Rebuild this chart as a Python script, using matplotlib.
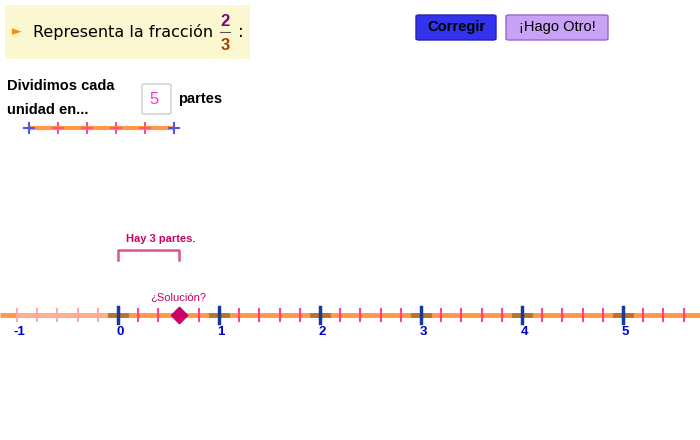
import matplotlib
matplotlib.use("Agg")
import matplotlib.pyplot as plt
from matplotlib.patches import Rectangle, FancyBboxPatch
import numpy as np

num, den = 2, 3
parts = 5
int_labels = [-1, 0, 1, 2, 3, 4, 5]
point_value = 3 / 5
hint_text = "Hay 3 partes."

plt.rcParams['font.family'] = ['Liberation Sans', 'DejaVu Sans']
X0, U = 118, 101  # pixel of 0 and pixel per unit
fig = plt.figure(figsize=(7, 4.4), dpi=100)
ax = fig.add_axes([0, 0, 1, 1])
ax.set_xlim(-X0 / U, (700 - X0) / U)
ax.set_ylim(440, 0)
ax.axis("off")
def px(v):
    return (v - X0) / U

# header box
ax.add_patch(Rectangle((px(5), 5), 245 / U, 54, facecolor="#fbf7d0", edgecolor="none"))
ax.text(px(12), 32, "►", color="#ff8c00", fontsize=9, va="center", family="DejaVu Sans")
ax.text(px(33), 32, "Representa la fracción", fontsize=11.5, va="center", family="DejaVu Sans")
ax.text(px(225), 21, str(num), color="#800080", fontsize=12, fontweight="bold", ha="center", va="center")
ax.plot([px(220), px(230)], [32, 32], color="#555", lw=0.8)
ax.text(px(225), 45, str(den), color="#a0400a", fontsize=12, fontweight="bold", ha="center", va="center")
ax.text(px(238), 32, ":", fontsize=12, va="center", family="DejaVu Sans")

# buttons
ax.add_patch(FancyBboxPatch((px(416), 15), 80 / U, 25, boxstyle="round,pad=0,rounding_size=0.03",
                            facecolor="#3333ee", edgecolor="#2222aa", mutation_aspect=40))
ax.text(px(456), 27.5, "Corregir", fontweight="bold", fontsize=10.5, ha="center", va="center")
ax.add_patch(FancyBboxPatch((px(506), 15), 102 / U, 25, boxstyle="round,pad=0,rounding_size=0.03",
                            facecolor="#c8a2f4", edgecolor="#9966cc", mutation_aspect=40))
ax.text(px(557), 27.5, "¡Hago Otro!", fontsize=10.5, ha="center", va="center")

# dividing text
ax.text(px(7), 86, "Dividimos cada", fontweight="bold", fontsize=10.5, va="center")
ax.text(px(7), 110, "unidad en...", fontweight="bold", fontsize=10.5, va="center")
ax.add_patch(FancyBboxPatch((px(142), 84), 29 / U, 30, boxstyle="round,pad=0,rounding_size=0.03",
                            facecolor="white", edgecolor="#cccccc", mutation_aspect=40))
ax.text(px(149), 99, str(parts), color="#ff33cc", fontsize=12, va="center")
ax.text(px(178), 99, "partes", fontweight="bold", fontsize=10.5, va="center")

# small model line
sx = np.linspace(29, 174, parts + 1)
ax.plot([px(29), px(174)], [128, 128], color="#ff9944", lw=3, solid_capstyle="butt")
for i, x in enumerate(sx):
    c = "#5555ee" if i in (0, parts) else "#ff5577"
    ax.plot([px(x), px(x)], [123, 133], color=c, lw=1.5)
    ax.plot([px(x - 5), px(x + 5)], [128, 128], color=c, lw=1.5)

# main number line
ax.plot([px(0), px(700)], [315, 315], color="#ff9944", lw=3.5, solid_capstyle="butt", zorder=1)
ax.plot([-1, 0], [315, 315], color="#ffb08a", lw=3.5, solid_capstyle="butt", zorder=1)
for k in range(-1, 6):
    for j in range(1, parts):
        x = k + j / parts
        c = "#ffaaaa" if k < 0 else "#ff4488"
        ax.plot([x, x], [309, 321], color=c, lw=1.5, zorder=2)
for k in range(-1, 6):
    if k >= 0:
        ax.plot([k - 0.08, k + 0.08], [315, 315], color="#b87333", lw=3.5, zorder=2)
        ax.plot([k, k], [307, 323], color="#1a3a9a", lw=2.5, zorder=3)
    else:
        ax.plot([k, k], [309, 321], color="#ffaaaa", lw=1.5, zorder=2)
for v in int_labels:
    ax.text(v + 0.02, 332, str(v), color="#0000cc", fontweight="bold", fontsize=9.5, ha="center", va="center")

# point and label
ax.scatter([point_value], [315], marker="D", s=70, color="#cc0066", zorder=5)
ax.text(point_value, 297, "¿Solución?", color="#cc0066", fontsize=8, ha="center", va="center")

# bracket
ax.plot([0, 0, point_value, point_value], [260, 250, 250, 260], color="#e0508f", lw=1.8)
ax.text(point_value / 2 + 0.12, 239, hint_text, color="#cc0066", fontweight="bold", fontsize=8, ha="center", va="center")

fig.savefig("out.png", dpi=100)
